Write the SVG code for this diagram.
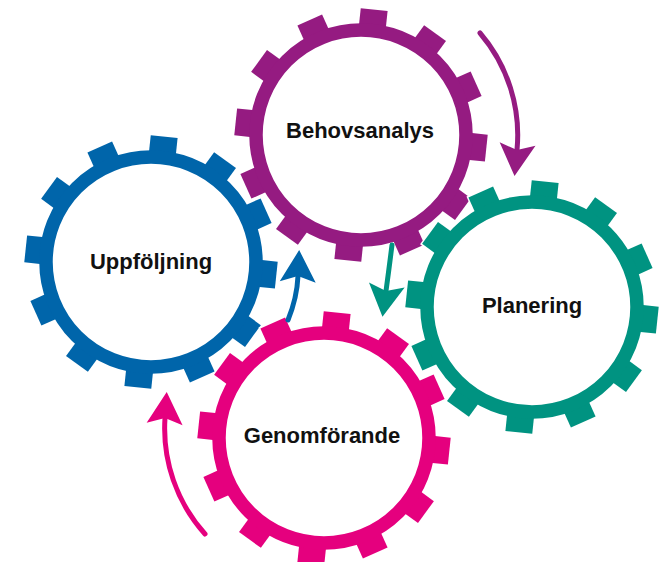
<svg xmlns="http://www.w3.org/2000/svg" xmlns:xlink="http://www.w3.org/1999/xlink" width="672" height="562" viewBox="0 0 672 562">
  <style>
    .label { font-family: "Liberation Sans", Arial, sans-serif; font-weight: bold; font-size: 22px; fill: #111; text-anchor: middle; }
    .halo { fill: #fff; stroke: #fff; stroke-width: 3; }
    .ring { fill: #fff; stroke: currentColor; stroke-width: 13.5; }
    .arrow { fill: none; stroke-width: 5; stroke-linecap: round; }
  </style>
  <defs>
    <g id="teeth">
      <rect x="-13.5" y="-126" width="27" height="18" transform="rotate(6)"/>
      <rect x="-13.5" y="-126" width="27" height="18" transform="rotate(36)"/>
      <rect x="-13.5" y="-126" width="27" height="18" transform="rotate(66)"/>
      <rect x="-13.5" y="-126" width="27" height="18" transform="rotate(96)"/>
      <rect x="-13.5" y="-126" width="27" height="18" transform="rotate(126)"/>
      <rect x="-13.5" y="-126" width="27" height="18" transform="rotate(156)"/>
      <rect x="-13.5" y="-126" width="27" height="18" transform="rotate(186)"/>
      <rect x="-13.5" y="-126" width="27" height="18" transform="rotate(216)"/>
      <rect x="-13.5" y="-126" width="27" height="18" transform="rotate(246)"/>
      <rect x="-13.5" y="-126" width="27" height="18" transform="rotate(276)"/>
      <rect x="-13.5" y="-126" width="27" height="18" transform="rotate(306)"/>
      <rect x="-13.5" y="-126" width="27" height="18" transform="rotate(336)"/>
    </g>
    <g id="gear">
      <g class="halo">
        <use xlink:href="#teeth" href="#teeth"/>
        <circle r="105" stroke-width="17"/>
      </g>
      <g fill="currentColor"><use xlink:href="#teeth" href="#teeth"/></g>
      <circle class="ring" r="105"/>
    </g>
    <marker id="ah-purple" markerUnits="userSpaceOnUse" orient="auto" markerWidth="40" markerHeight="40" viewBox="-10 -20 40 40" refX="0" refY="0" overflow="visible">
      <path d="M26,0 L-6,-18 L0,0 L-6,18 Z" fill="#951B81"/>
    </marker>
    <marker id="ah-teal" markerUnits="userSpaceOnUse" orient="auto" markerWidth="40" markerHeight="40" viewBox="-10 -20 40 40" refX="0" refY="0" overflow="visible">
      <path d="M26,0 L-6,-18 L0,0 L-6,18 Z" fill="#009381"/>
    </marker>
    <marker id="ah-blue" markerUnits="userSpaceOnUse" orient="auto" markerWidth="40" markerHeight="40" viewBox="-10 -20 40 40" refX="0" refY="0" overflow="visible">
      <path d="M26,0 L-6,-18 L0,0 L-6,18 Z" fill="#0065AA"/>
    </marker>
    <marker id="ah-magenta" markerUnits="userSpaceOnUse" orient="auto" markerWidth="40" markerHeight="40" viewBox="-10 -20 40 40" refX="0" refY="0" overflow="visible">
      <path d="M26,0 L-6,-18 L0,0 L-6,18 Z" fill="#E5007E"/>
    </marker>
  </defs>
  <rect width="672" height="562" fill="#fff"/>

  <g id="node-behovsanalys" style="color:#951B81">
    <use xlink:href="#gear" href="#gear" transform="translate(361,135)"/>
    <text class="label" x="360" y="138">Behovsanalys</text>
  </g>
  <g id="node-planering" style="color:#009381">
    <use xlink:href="#gear" href="#gear" transform="translate(532,307)"/>
    <text class="label" x="532" y="313">Planering</text>
  </g>
  <g id="node-uppfoljning" style="color:#0065AA">
    <use xlink:href="#gear" href="#gear" transform="translate(151,262)"/>
    <text class="label" x="151" y="269">Uppföljning</text>
  </g>
  <g id="node-genomforande" style="color:#E5007E">
    <use xlink:href="#gear" href="#gear" transform="translate(324,438)"/>
    <text class="label" x="322" y="443">Genomförande</text>
  </g>

  <g id="connectors">
    <path class="arrow" d="M480,33 A157,157 0 0 1 517,150" stroke="#951B81" marker-end="url(#ah-purple)"/>
    <path class="arrow" d="M392,245 Q389,269 386,291" stroke="#009381" stroke-width="4.5" stroke-linecap="butt" marker-end="url(#ah-teal)"/>
    <path class="arrow" d="M288,320 Q297,298 298,276" stroke="#0065AA" stroke-linecap="butt" marker-end="url(#ah-blue)"/>
    <path class="arrow" d="M205,534 A158,158 0 0 1 165,418" stroke="#E5007E" marker-end="url(#ah-magenta)"/>
  </g>
</svg>
